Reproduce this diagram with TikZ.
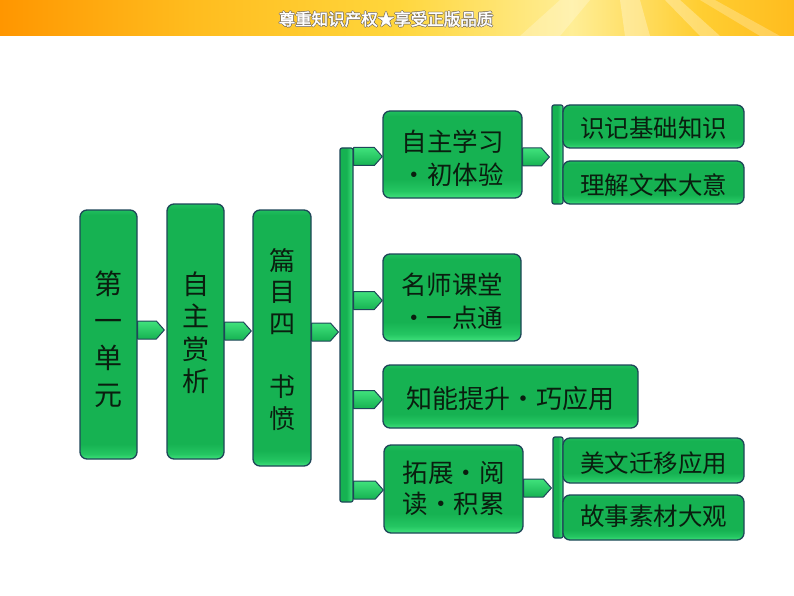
\documentclass[tikz,border=0pt]{standalone}
\usepackage{fontspec}
\newfontfamily\cjk{Noto Sans CJK SC}
\newfontfamily\cjkbold[FakeBold=2]{Noto Sans CJK SC}
\usetikzlibrary{calc}
\definecolor{gA}{RGB}{22,178,82}
\definecolor{gM}{RGB}{36,198,98}
\definecolor{gB}{RGB}{64,226,124}
\definecolor{gT}{RGB}{32,190,94}
\definecolor{edge}{RGB}{30,70,88}
\definecolor{txt}{RGB}{10,30,15}
\definecolor{bnA}{RGB}{255,150,0}
\definecolor{bnB}{RGB}{255,188,30}
\definecolor{bnC}{RGB}{255,214,60}
\definecolor{bnD}{RGB}{255,238,150}
\definecolor{bnE}{RGB}{255,206,50}
\definecolor{outl}{RGB}{120,110,100}
% TikZ maps the 25bp..75bp part of a shading onto the path
\pgfdeclarehorizontalshading{bannershade}{100bp}{color(0bp)=(bnA); color(25bp)=(bnA); color(37bp)=(bnB); color(50bp)=(bnC); color(61bp)=(bnD); color(69bp)=(bnE); color(75bp)=(bnB); color(100bp)=(bnB)}
\pgfdeclareverticalshading{boxshade}{100bp}{color(0bp)=(gB); color(25bp)=(gB); color(29bp)=(gM); color(36bp)=(gA); color(72bp)=(gA); color(75bp)=(gT); color(100bp)=(gT)}
\pgfdeclareverticalshading{tallshade}{100bp}{color(0bp)=(gB); color(25bp)=(gB); color(26bp)=(gM); color(28bp)=(gA); color(74bp)=(gA); color(75bp)=(gT); color(100bp)=(gT)}
\pgfdeclarehorizontalshading{barshade}{100bp}{color(0bp)=(gA); color(25bp)=(gA); color(50bp)=(gA); color(75bp)=(gB); color(100bp)=(gB)}
\newcommand\outlined[1]{%
  \rlap{\hspace{0.7pt}\textcolor{outl}{#1}}\rlap{\hspace{-0.7pt}\textcolor{outl}{#1}}%
  \rlap{\raisebox{0.7pt}{\textcolor{outl}{#1}}}\rlap{\raisebox{-0.7pt}{\textcolor{outl}{#1}}}%
  \textcolor{white}{#1}}
% text block shifted down by #1, size #2, line skip #3
\newcommand\btext[4]{\raisebox{-#1}[\height][\depth]{\fontsize{#2}{#3}\selectfont\begin{tabular}{@{}c@{}}#4\end{tabular}}}
\newcommand\garrow[3]{%
  \path[conn] let \p1=#1, \p2=#2, \p3=(0,#3) in
    (\x1,\y3+9pt) -- (\x2-8pt,\y3+9pt) -- (\x2,\y3) -- (\x2-8pt,\y3-9pt) -- (\x1,\y3-9pt) -- cycle;}
\begin{document}
\begin{tikzpicture}[x=1pt,y=-1pt,
  box/.style={draw=edge,line width=1.3pt,rounded corners=7pt,shading=boxshade,inner sep=0pt,text=txt,font=\cjk},
  tallbox/.style={box,shading=tallshade},
  bar/.style={draw=edge,line width=1.2pt,rounded corners=2pt,shading=barshade,inner sep=0pt},
  conn/.style={draw=edge,line width=1pt,top color=gB,bottom color=gA,line join=round}]
\useasboundingbox (0,0) rectangle (794,596);
\fill[white] (0,0) rectangle (794,596);
% banner
\path[shading=bannershade] (0,0) rectangle (794,36);
\fill[white,opacity=0.25] (560,0) -- (590,0) -- (560,36) -- (520,36) -- cycle;
\fill[white,opacity=0.3] (620,0) -- (640,0) -- (650,36) -- (625,36) -- cycle;
\fill[white,opacity=0.3] (665,0) -- (680,0) -- (720,36) -- (700,36) -- cycle;
\fill[white,opacity=0.25] (700,0) -- (715,0) -- (780,36) -- (760,36) -- cycle;
\node[font=\cjkbold\fontsize{16.5pt}{17pt}\selectfont,inner sep=0pt] (banner) at (386,19) {\outlined{尊重知识产权★享受正版品质}};
% level 1
\node[tallbox,minimum width=57pt,minimum height=249pt] (u1) at (108.5,334.5) {\btext{8pt}{28pt}{37pt}{第\\一\\单\\元}};
\node[tallbox,minimum width=57pt,minimum height=255pt] (u2) at (195.5,331.5) {\btext{5pt}{27pt}{32.5pt}{自\\主\\赏\\析}};
\node[tallbox,minimum width=58pt,minimum height=256pt] (u3) at (282,338) {\btext{5pt}{26pt}{31.6pt}{篇\\目\\四\\\mbox{}\\书\\愤}};
\node[bar,minimum width=13pt,minimum height=354pt] (bar1) at (346.5,325) {};
% level 2
\node[box,minimum width=139pt,minimum height=87pt] (b1) at (452.5,154.5) {\btext{7pt}{25.5pt}{33pt}{自主学习\\・初体验}};
\node[box,minimum width=138pt,minimum height=87pt] (b2) at (452,297.5) {\btext{7pt}{25.5pt}{33pt}{名师课堂\\・一点通}};
\node[box,minimum width=255pt,minimum height=63pt] (b3) at (510.5,396.5) {\btext{5pt}{26pt}{33pt}{知能提升・巧应用}};
\node[box,minimum width=139pt,minimum height=88pt] (b4) at (453.5,489) {\btext{3pt}{25.5pt}{31pt}{拓展・阅\\读・积累}};
\node[bar,minimum width=11pt,minimum height=99pt] (bar2) at (557.5,154.5) {};
\node[bar,minimum width=10pt,minimum height=101pt] (bar3) at (558,487.5) {};
% level 3
\node[box,minimum width=181pt,minimum height=43pt] (c1) at (653.5,126.5) {\btext{5pt}{24.5pt}{28pt}{识记基础知识}};
\node[box,minimum width=181pt,minimum height=43pt] (c2) at (653.5,182.5) {\btext{6pt}{24.5pt}{28pt}{理解文本大意}};
\node[box,minimum width=181pt,minimum height=45pt] (c3) at (653.5,460.5) {\btext{6pt}{24.5pt}{28pt}{美文迁移应用}};
\node[box,minimum width=181pt,minimum height=45pt] (c4) at (653.5,517.5) {\btext{2pt}{24.5pt}{28pt}{故事素材大观}};
% connectors
\garrow{(u1.east)}{([xshift=-2pt]u2.west)}{330}
\garrow{(u2.east)}{([xshift=-1pt]u3.west)}{331}
\garrow{(u3.east)}{([xshift=-1pt]bar1.west)}{332}
\garrow{(bar1.east)}{(b1.west)}{156.5}
\garrow{(bar1.east)}{(b2.west)}{300.5}
\garrow{(bar1.east)}{(b3.west)}{399.5}
\garrow{(bar1.east)}{(b4.west)}{490}
\garrow{(b1.east)}{([xshift=-2pt]bar2.west)}{157}
\garrow{(b4.east)}{([xshift=-1pt]bar3.west)}{488}
\end{tikzpicture}
\end{document}
